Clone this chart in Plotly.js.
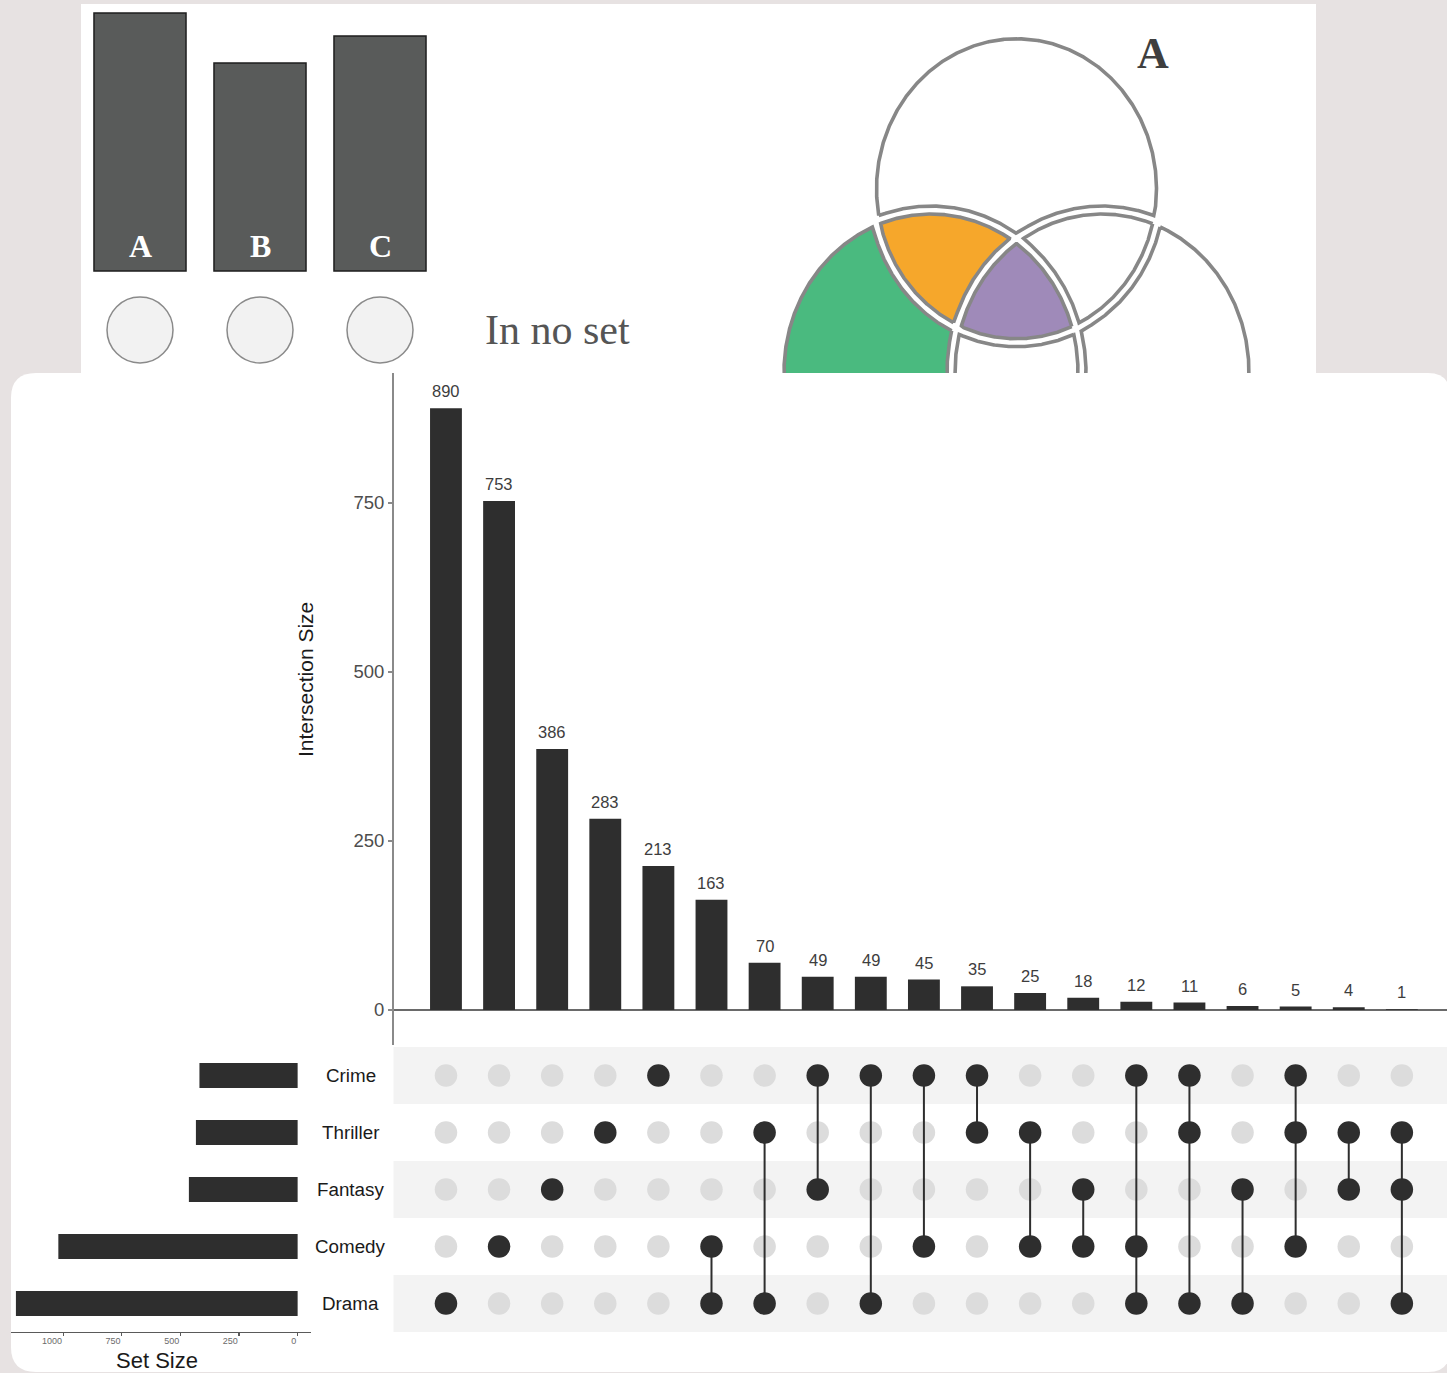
<!DOCTYPE html>
<html><head><meta charset="utf-8">
<script src="https://cdn.plot.ly/plotly-3.0.1.min.js"></script>
<style>html,body{margin:0;padding:0;background:#e7e2e2;} #chart{width:1447px;height:1373px;}</style>
</head><body><div id="chart"></div>
<script>
// ---------------- data ----------------
const setNames = ['Crime', 'Thriller', 'Fantasy', 'Comedy', 'Drama'];
const setSizes = [419, 434, 464, 1021, 1202];
const intersectionSizes = [890, 753, 386, 283, 213, 163, 70, 49, 49, 45, 35, 25, 18, 12, 11, 6, 5, 4, 1];
const intersectionMembers = [
  ['Drama'], ['Comedy'], ['Fantasy'], ['Thriller'], ['Crime'],
  ['Comedy', 'Drama'], ['Thriller', 'Drama'], ['Crime', 'Fantasy'], ['Crime', 'Drama'],
  ['Crime', 'Comedy'], ['Crime', 'Thriller'], ['Thriller', 'Comedy'], ['Fantasy', 'Comedy'],
  ['Crime', 'Comedy', 'Drama'], ['Crime', 'Thriller', 'Drama'], ['Fantasy', 'Drama'],
  ['Crime', 'Thriller', 'Comedy'], ['Thriller', 'Fantasy'], ['Thriller', 'Fantasy', 'Drama']
];
const intersectionTicks = [0, 250, 500, 750];
const setSizeTicks = [0, 250, 500, 750, 1000];
const demoSetLabels = ['A', 'B', 'C'];
const demoSetSizes = [258, 208, 235];
const noSetLabel = 'In no set';
const vennLabel = 'A';
// Venn regions: membership in [top, left, right]
const vennRegionSigns = [[1,-1,-1],[-1,1,-1],[-1,-1,1],[1,1,-1],[1,-1,1],[-1,1,1],[1,1,1]];
const vennRegionColors = ['#ffffff','#4aba7f','#ffffff','#f6a72b','#ffffff','#ffffff','#9f8ab9'];

// ---------------- helpers ----------------
const W = 1447, H = 1373;
const fx = p => p / W;
const fy = p => 1 - p / H;
const SANS = 'Liberation Sans, Arial, sans-serif';
const SERIF = 'Liberation Serif, Times New Roman, serif';
const DARK = '#2e2e2e';
const rowsBottomUp = setNames.slice().reverse();
const colIdx = intersectionSizes.map((_, i) => i);

// ---------------- traces ----------------
const traces = [];

// intersection bars
traces.push({
  type: 'bar', x: colIdx, y: intersectionSizes, width: 0.6,
  marker: {color: DARK}, xaxis: 'x', yaxis: 'y', hoverinfo: 'skip'
});

// matrix dots
const inX = [], inY = [], acX = [], acY = [], lnX = [], lnY = [];
intersectionMembers.forEach((m, c) => {
  setNames.forEach(s => {
    if (m.includes(s)) { acX.push(c); acY.push(s); } else { inX.push(c); inY.push(s); }
  });
  if (m.length > 1) {
    const idx = m.map(s => setNames.indexOf(s));
    lnX.push(c, c, null);
    lnY.push(setNames[Math.min(...idx)], setNames[Math.max(...idx)], null);
  }
});
traces.push({type: 'scatter', mode: 'markers', x: inX, y: inY, xaxis: 'x2', yaxis: 'y2',
  marker: {size: 22.5, color: '#dcdcdc'}, hoverinfo: 'skip', cliponaxis: false});
traces.push({type: 'scatter', mode: 'lines', x: lnX, y: lnY, xaxis: 'x2', yaxis: 'y2',
  line: {color: DARK, width: 2}, hoverinfo: 'skip', connectgaps: false});
traces.push({type: 'scatter', mode: 'markers', x: acX, y: acY, xaxis: 'x2', yaxis: 'y2',
  marker: {size: 22.5, color: DARK}, hoverinfo: 'skip', cliponaxis: false});

// set size bars
traces.push({type: 'bar', orientation: 'h', x: setSizes, y: setNames, width: 0.44,
  marker: {color: DARK}, xaxis: 'x3', yaxis: 'y3', hoverinfo: 'skip'});

// Venn diagram (ellipses, regions separated by gaps)
const ells = [
  {cx: 1016.5, cy: 188.75, a: 144, b: 154},
  {cx: 931, cy: 372, a: 151, b: 162},
  {cx: 1102, cy: 372, a: 151, b: 162}
];
const GAP = 4;
function inEll(e, a, b, x, y) { const u = (x - e.cx) / a, v = (y - e.cy) / b; return u * u + v * v <= 1; }
function regionPath(signs) {
  const N = 1440, segs = [];
  const eff = signs.map((s, i) => s > 0 ? [ells[i].a - GAP, ells[i].b - GAP] : [ells[i].a + GAP, ells[i].b + GAP]);
  for (let i = 0; i < 3; i++) {
    const pts = [], valid = [];
    for (let k = 0; k < N; k++) {
      const t = 2 * Math.PI * k / N;
      const x = ells[i].cx + eff[i][0] * Math.cos(t), y = ells[i].cy + eff[i][1] * Math.sin(t);
      let ok = true;
      for (let j = 0; j < 3; j++) {
        if (j === i) continue;
        const ins = inEll(ells[j], eff[j][0], eff[j][1], x, y);
        if ((signs[j] > 0) !== ins) { ok = false; break; }
      }
      pts.push([x, y]); valid.push(ok);
    }
    let k0 = valid.indexOf(false);
    if (k0 < 0) { segs.push(pts.concat([pts[0]])); continue; }
    let cur = null;
    for (let n = 1; n <= N; n++) {
      const k = (k0 + n) % N;
      if (valid[k]) { if (!cur) cur = []; cur.push(pts[k]); }
      else if (cur) { segs.push(cur); cur = null; }
    }
    if (cur) segs.push(cur);
  }
  const res = segs.shift().slice();
  while (segs.length) {
    const end = res[res.length - 1];
    let best = -1, bestD = Infinity, rev = false;
    segs.forEach((s, i) => {
      const d1 = Math.hypot(s[0][0] - end[0], s[0][1] - end[1]);
      const d2 = Math.hypot(s[s.length - 1][0] - end[0], s[s.length - 1][1] - end[1]);
      if (d1 < bestD) { bestD = d1; best = i; rev = false; }
      if (d2 < bestD) { bestD = d2; best = i; rev = true; }
    });
    let s = segs.splice(best, 1)[0];
    if (rev) s = s.slice().reverse();
    res.push(...s);
  }
  res.push(res[0]);
  return res;
}
vennRegionSigns.forEach((sg, r) => {
  const p = regionPath(sg);
  traces.push({type: 'scatter', mode: 'lines', x: p.map(q => q[0]), y: p.map(q => q[1]),
    fill: 'toself', fillcolor: vennRegionColors[r], line: {color: '#878787', width: 3.6},
    xaxis: 'x4', yaxis: 'y4', hoverinfo: 'skip'});
});

// demo set bars + circles
traces.push({type: 'bar', x: demoSetLabels, y: demoSetSizes, width: 0.767,
  marker: {color: '#595b5a', line: {color: '#1e1e1e', width: 1.5}},
  xaxis: 'x5', yaxis: 'y5', hoverinfo: 'skip'});
traces.push({type: 'scatter', mode: 'markers', x: demoSetLabels, y: demoSetLabels.map(() => -59),
  marker: {size: 66, color: '#f2f2f2', line: {color: '#8a8a8a', width: 1.5}},
  xaxis: 'x5', yaxis: 'y5', hoverinfo: 'skip', cliponaxis: false});

// ---------------- shapes ----------------
function pathPx(cmds) {
  return cmds.map(c => typeof c === 'string' ? c : fx(c[0]).toFixed(6) + ',' + fy(c[1]).toFixed(6)).join(' ');
}
const shapes = [];
shapes.push({type: 'rect', xref: 'paper', yref: 'paper', x0: fx(81), x1: fx(1316), y0: fy(380), y1: fy(4),
  fillcolor: '#ffffff', line: {width: 0}, layer: 'below'});
shapes.push({type: 'path', xref: 'paper', yref: 'paper', layer: 'below', fillcolor: '#ffffff', line: {width: 0},
  path: pathPx(['M', [36, 373], 'L', [1428, 373], 'Q', [1450, 373], [1450, 395], 'L', [1450, 1350],
    'Q', [1450, 1372], [1428, 1372], 'L', [36, 1372], 'Q', [11, 1372], [11, 1347], 'L', [11, 398],
    'Q', [11, 373], [36, 373], 'Z'])});
setNames.forEach((s, i) => {
  if (i % 2 === 0) {
    const r = rowsBottomUp.indexOf(s);
    shapes.push({type: 'rect', xref: 'paper', yref: 'y2', x0: fx(393.5), x1: 1, y0: r - 0.5, y1: r + 0.5,
      fillcolor: '#f3f3f3', line: {width: 0}, layer: 'below'});
  }
});

// ---------------- annotations ----------------
const annotations = [];
intersectionSizes.forEach((v, i) => annotations.push({
  x: i, y: v, xref: 'x', yref: 'y', text: String(v), showarrow: false, xanchor: 'center', yanchor: 'bottom', yshift: 6,
  font: {family: SANS, size: 16.5, color: '#3d3d3d'}}));
setNames.forEach(s => annotations.push({
  x: fx(350.5), xref: 'paper', y: s, yref: 'y2', text: s, showarrow: false, xanchor: 'center', yanchor: 'middle',
  font: {family: SANS, size: 18.8, color: '#1a1a1a'}}));
annotations.push({x: fx(305), y: fy(680), xref: 'paper', yref: 'paper', text: 'Intersection Size',
  xanchor: 'center', yanchor: 'middle',
  textangle: -90, showarrow: false, font: {family: SANS, size: 21, color: '#1a1a1a'}});
annotations.push({x: fx(157), y: fy(1360), xref: 'paper', yref: 'paper', text: 'Set Size',
  xanchor: 'center', yanchor: 'middle',
  showarrow: false, font: {family: SANS, size: 22, color: '#1a1a1a'}});
demoSetLabels.forEach(l => annotations.push({
  x: l, y: 0, xref: 'x5', yref: 'y5', text: '<b>' + l + '</b>', showarrow: false, xanchor: 'center', yanchor: 'bottom', yshift: 5,
  font: {family: SERIF, size: 32, color: '#ffffff'}}));
annotations.push({x: fx(557), y: fy(330), xref: 'paper', yref: 'paper', text: noSetLabel, showarrow: false,
  xanchor: 'center', yanchor: 'middle',
  font: {family: SERIF, size: 42, color: '#555555'}});
annotations.push({x: fx(1153), y: fy(53), xref: 'paper', yref: 'paper', text: '<b>' + vennLabel + '</b>',
  xanchor: 'center', yanchor: 'middle',
  showarrow: false, font: {family: SERIF, size: 44, color: '#3f3f3f'}});

// ---------------- layout ----------------
const hidden = {showline: false, showticklabels: false, ticks: '', showgrid: false, zeroline: false, fixedrange: true};
const layout = {
  width: W, height: H, margin: {l: 0, r: 0, t: 0, b: 0},
  paper_bgcolor: '#e7e2e2', plot_bgcolor: 'rgba(0,0,0,0)', showlegend: false, hovermode: false,
  font: {family: SANS},
  xaxis: Object.assign({}, hidden, {domain: [fx(393.5), 1], range: [-0.988, 18.85], anchor: 'y'}),
  yaxis: {domain: [fy(1045), fy(373)], range: [-51.8, 942.3], anchor: 'x',
    showline: true, linecolor: '#8a8a8a', linewidth: 1.5, ticks: 'outside', ticklen: 4, tickwidth: 1.3,
    tickcolor: '#8a8a8a', tickvals: intersectionTicks, showgrid: false,
    zeroline: true, zerolinecolor: '#6a6a6a', zerolinewidth: 1.7,
    tickfont: {family: SANS, size: 18.5, color: '#4d4d4d'}},
  xaxis2: Object.assign({}, hidden, {domain: [fx(393.5), 1], range: [-0.988, 18.85], anchor: 'y2', matches: 'x'}),
  yaxis2: Object.assign({}, hidden, {domain: [fy(1332), fy(1047)], type: 'category',
    categoryarray: rowsBottomUp, categoryorder: 'array', range: [-0.5, 4.5], anchor: 'x2'}),
  xaxis3: {domain: [fx(11), fx(311)], range: [1223, -57], anchor: 'y3',
    showline: true, linecolor: '#5a5a5a', linewidth: 1.3, ticks: 'outside', ticklen: 3, tickwidth: 1.2,
    tickcolor: '#5a5a5a', tickvals: setSizeTicks, ticklabelposition: 'outside left',
    showgrid: false, zeroline: false, tickfont: {family: SANS, size: 9, color: '#6b6b6b'}},
  yaxis3: Object.assign({}, hidden, {domain: [fy(1332), fy(1047)], type: 'category',
    categoryarray: rowsBottomUp, categoryorder: 'array', range: [-0.5, 4.5], anchor: 'x3'}),
  xaxis4: Object.assign({}, hidden, {domain: [fx(700), fx(1316)], range: [700, 1316], anchor: 'y4'}),
  yaxis4: Object.assign({}, hidden, {domain: [fy(373), fy(4)], range: [373, 4], anchor: 'x4'}),
  xaxis5: Object.assign({}, hidden, {domain: [fx(80), fx(440)], type: 'category',
    categoryarray: demoSetLabels, categoryorder: 'array', range: [-0.5, 2.5], anchor: 'y5'}),
  yaxis5: Object.assign({}, hidden, {domain: [fy(373), fy(4)], range: [-102, 267], anchor: 'x5'}),
  shapes: shapes,
  annotations: annotations
};
Plotly.newPlot('chart', traces, layout, {staticPlot: true, displayModeBar: false});
</script>
</body></html>
